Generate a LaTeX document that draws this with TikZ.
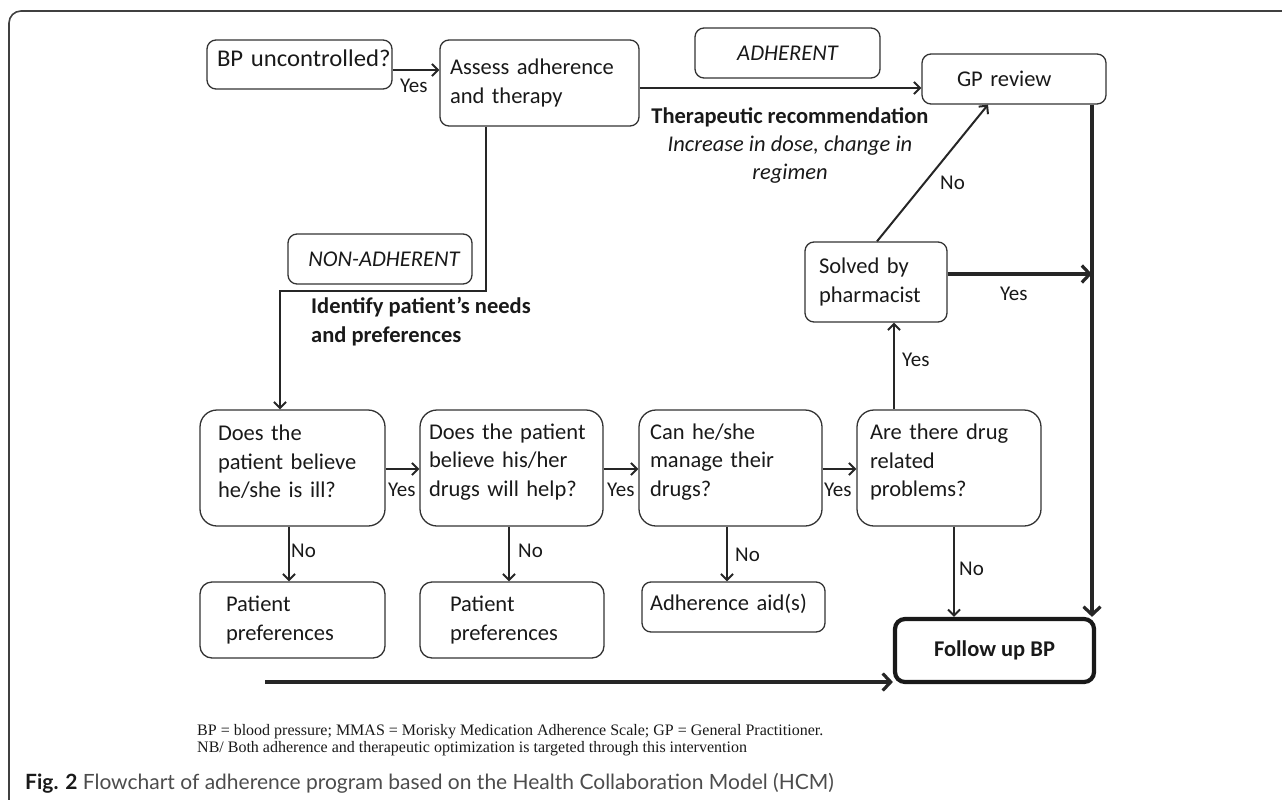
\documentclass[tikz,border=0pt]{standalone}
\usepackage{fontspec}
\setmainfont{Carlito}
\newfontfamily\capfont{Lato}
\newfontfamily\notefont{Liberation Serif}
\usetikzlibrary{arrows.meta,calc}
\newcommand\liftend{\par\vspace*{12pt}}
\begin{document}
\begin{tikzpicture}[x=1pt,y=-1pt,
  every node/.style={font=\fontsize{22.5}{28.5}\selectfont, text=black!90},
  box/.style={draw=black!80, line width=1.3pt, rounded corners=9pt, align=left, inner ysep=0pt},
  bigbox/.style={box, rounded corners=17pt, execute at end node=\liftend},
  lab/.style={font=\fontsize{21}{25}\selectfont, inner sep=0pt, anchor=west},
  arr/.style={line width=2pt, draw=black!85, -{Straight Barb[length=6pt,width=12pt,line width=2pt]}},
  heavyarr/.style={line width=3.4pt, draw=black!85, -{Straight Barb[length=8pt,width=17pt,line width=3.2pt]}},
]
\path[use as bounding box] (0,0) rectangle (1282,800);
% frame
\draw[line width=1.6pt, black!75, rounded corners=12pt] (9,802) -- (9,11) -- (1284,11);

% top boxes
\node[box, minimum width=185, minimum height=49, text width=171, inner xsep=7, text depth=13pt] (bp) at (299.5,64.5) {\hspace*{3pt}\fontsize{24}{28.5}\selectfont\scalebox{1.03}[1]{BP uncontrolled?}};
\node[box, minimum width=199, minimum height=86, text width=179, inner xsep=10] (assess) at (539.5,83) {Assess adherence\\and therapy};
\node[box, minimum width=185, minimum height=50, align=center, font=\fontsize{22.5}{28.5}\selectfont\itshape] (adh) at (787.5,53) {ADHERENT};
\node[box, minimum width=184, minimum height=50, text width=114, inner xsep=35] (gp) at (1014,79) {GP review};
\node[box, minimum width=184, minimum height=50, align=center, font=\fontsize{22.5}{28.5}\selectfont\itshape] (nonadh) at (380,259) {\hspace*{8pt}NON-ADHERENT};
\node[box, minimum width=142, minimum height=80, text width=114, inner xsep=14] (solved) at (876,282) {Solved by\\pharmacist};

% row of questions
\node[bigbox, minimum width=185, minimum height=116, text width=149, inner xsep=18] (q1) at (292.5,468) {Does the\\patient believe\\he/she is ill?};
\node[bigbox, minimum width=183, minimum height=116, text width=165, inner xsep=9] (q2) at (511.5,468) {Does the patient\\believe his/her\\drugs will help?};
\node[bigbox, minimum width=183, minimum height=116, text width=161, inner xsep=11] (q3) at (730.5,468) {Can he/she\\manage their\\drugs?};
\node[bigbox, minimum width=184, minimum height=116, text width=158, inner xsep=13] (q4) at (949,468) {Are there drug\\related\\problems?};

% outcome boxes
\node[box, rounded corners=12pt, minimum width=185, minimum height=76, text width=133, inner xsep=26] (pp1) at (292.5,620) {Patient\\preferences};
\node[box, rounded corners=12pt, minimum width=184, minimum height=76, text width=124, inner xsep=30] (pp2) at (512,620) {Patient\\preferences};
\node[box, minimum width=183, minimum height=50, text width=167, inner xsep=8, text depth=10pt] (aid) at (733.5,607) {Adherence aid(s)};
\node[draw=black!90, line width=4.2pt, rounded corners=10pt, minimum width=199, minimum height=63, font=\fontsize{22.5}{28.5}\selectfont\bfseries] (follow) at (994.5,650.5) {Follow up BP};

% free texts
\node[anchor=west, align=left, inner sep=0pt, font=\fontsize{22.5}{29}\selectfont\bfseries] (identify) at (311,322) {Identify patient’s needs\\and preferences};
\node[align=center, inner sep=0pt, font=\fontsize{22.5}{28}\selectfont] (therap) at (790,146) {\textbf{Therapeutic recommendation}\\\textit{Increase in dose, change in}\\\textit{regimen}};

% helper coordinates
\coordinate (ya) at (0,70);
\coordinate (yb) at (0,88);
\coordinate (xa) at (486,0);
\coordinate (ka) at (280,291);
\coordinate (yr) at (0,469);
\coordinate (ys) at (0,274);
\coordinate (xv) at (1092,0);
\coordinate (xq1) at (289,0);
\coordinate (xq2) at (509,0);
\coordinate (xq3) at (727,0);
\coordinate (xq4) at (954,0);
\coordinate (xup) at (894,0);
\coordinate (dgs) at (877,0);
\coordinate (dge) at (988,0);
\coordinate (bstart) at (265,682);

% connectors
\draw[arr, line width=2.4pt] (bp.east |- ya) -- (assess.west |- ya);
\draw[arr] (assess.east |- yb) -- (gp.west |- yb);
\draw[arr] (assess.south -| xa) |- (ka) -- (q1.north -| ka);
\draw[arr] (q1.east |- yr) -- (q2.west |- yr);
\draw[arr] (q2.east |- yr) -- (q3.west |- yr);
\draw[arr] (q3.east |- yr) -- (q4.west |- yr);
\draw[arr] (q1.south -| xq1) -- (pp1.north -| xq1);
\draw[arr] (q2.south -| xq2) -- (pp2.north -| xq2);
\draw[arr] (q3.south -| xq3) -- (aid.north -| xq3);
\draw[arr] (q4.south -| xq4) -- (follow.north -| xq4);
\draw[arr] (q4.north -| xup) -- (solved.south -| xup);
\draw[arr] (solved.north -| dgs) -- (gp.south -| dge);
\draw[heavyarr] (solved.east |- ys) -- (xv |- ys);
\draw[heavyarr] (gp.south -| xv) -- (follow.north -| xv);
\draw[heavyarr] (bstart) -- (follow.west |- bstart);

% labels
\node[lab] (l1) at (400,86) {Yes};
\node[lab] (l2) at (388,490) {Yes};
\node[lab] (l3) at (607,490) {Yes};
\node[lab] (l4) at (824,490) {Yes};
\node[lab] (l5) at (291,551) {No};
\node[lab] (l6) at (518,551) {No};
\node[lab] (l7) at (735,555) {No};
\node[lab] (l8) at (959,569) {No};
\node[lab] (l9) at (902,360) {Yes};
\node[lab] (l10) at (940,183) {No};
\node[lab] (l11) at (1000,294) {Yes};

% footnote and caption
\node[anchor=west, align=left, inner sep=0pt, font=\notefont\fontsize{16}{17}\selectfont] (note) at (197,740.5) {BP = blood pressure; MMAS = Morisky Medication Adherence Scale; GP = General Practitioner.\\NB/ Both adherence and therapeutic optimization is targeted through this intervention};
\node[anchor=west, inner sep=0pt, font=\capfont\fontsize{21}{24}\selectfont, text=black!70] (cap) at (25,783) {\textcolor{black!90}{\bfseries Fig. 2} Flowchart of adherence program based on the Health Collaboration Model (HCM)};
\end{tikzpicture}
\end{document}
